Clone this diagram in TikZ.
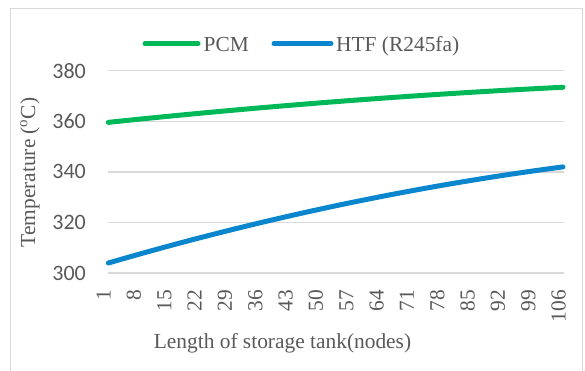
\documentclass[tikz,border=0pt]{standalone}
\usepackage{fontspec}
\setmainfont{Liberation Serif}
\newfontfamily\calibfont{Carlito}
\definecolor{framec}{HTML}{D9D9D9}
\definecolor{gridc}{HTML}{D9D9D9}
\definecolor{txtc}{HTML}{595959}
\definecolor{pcmc}{HTML}{00B858}
\definecolor{htfc}{HTML}{0A86CF}
\tikzset{
  pcmline/.style={line width=5pt, color=pcmc, line cap=round, line join=round},
  htfline/.style={line width=5pt, color=htfc, line cap=round, line join=round},
  gridline/.style={line width=1.2pt, color=gridc},
  serif/.style={font=\fontsize{21.4}{24}\selectfont, text=txtc, inner sep=0pt},
  ylab/.style={font=\calibfont\fontsize{22}{24}\selectfont, text=txtc, inner sep=0pt, anchor=east},
  xlab/.style={serif, rotate=90, anchor=mid east},
}
\begin{document}
\begin{tikzpicture}[x=1pt,y=-1pt]
\useasboundingbox (0,0) rectangle (585,370);
\draw[framec, line width=1pt] (10.5,371) -- (10.5,8) -- (582,8) -- (582,371);
% gridlines and y labels
\foreach \v in {300,320,340,360,380}{
  \pgfmathsetmacro{\yy}{273-(\v-300)*2.5275}
  \draw[gridline] (108,\yy) -- (564,\yy);
  \node[ylab] (yl\v) at (86,\yy) {\v};
}
% x labels
\foreach \n in {1,8,...,106}{
  \pgfmathsetmacro{\xx}{108.3+(\n-1)/105*455}
  \node[xlab] (xl\n) at (\xx,290) {\n};
}
% data
\draw[pcmline] plot[domain=0:1, samples=60, variable=\t]
  ({108.3+455*\t}, {273-(59.6+18.9*\t-5.0*\t*\t)*2.5275});
\draw[htfline] plot[domain=0:1, samples=60, variable=\t]
  ({108.3+455*\t}, {273-(3.95+52.55*\t-14.5*\t*\t)*2.5275});
% titles
\node[serif, rotate=90, anchor=base] (ytitle) at (35,172.5) {Temperature (\textsuperscript{o}C)};
\node[serif, anchor=base] (xtitle) at (282.5,348) {Length of storage tank(nodes)};
% legend
\draw[pcmline] (145,43.8) -- (198,43.8);
\node[serif, anchor=base west] (lpcm) at (203.5,51) {PCM};
\draw[htfline] (274,43.8) -- (331,43.8);
\node[serif, anchor=base west] (lhtf) at (336,51) {HTF (R245fa)};
\end{tikzpicture}
\end{document}
